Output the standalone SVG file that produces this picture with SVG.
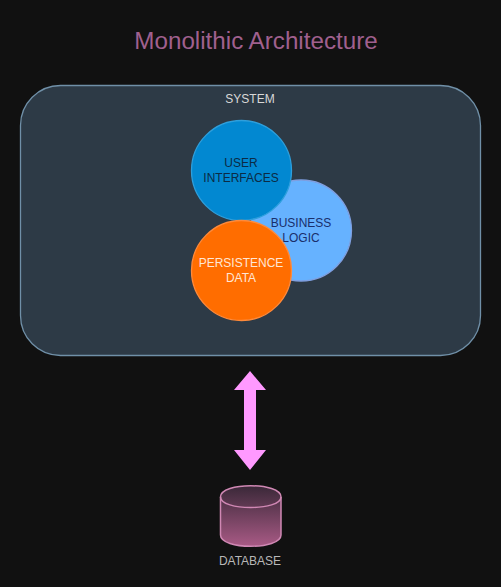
<svg xmlns="http://www.w3.org/2000/svg" width="501" height="587" viewBox="0 0 501 587">
<style>
text{font-family:"Liberation Sans",Arial,sans-serif;text-anchor:middle;font-size:12px}
.c{stroke-width:1.3}
</style>
<defs>
<linearGradient id="db" x1="0" y1="0" x2="0" y2="1"><stop offset="0" stop-color="#3a2838"/><stop offset="1" stop-color="#a85a85"/></linearGradient>
</defs>
<rect width="501" height="587" fill="#111111"/>
<text x="256" y="49" style="font-size:24.200px" fill="#a0608e">Monolithic Architecture</text>
<g id="system">
<rect x="20.500" y="85.500" width="460" height="270" rx="40" ry="40" fill="#2d3a46" stroke="#7090a8" stroke-width="1.300"/>
<text x="250" y="103" fill="#d8d8d8">SYSTEM</text>
</g>
<g id="business-logic">
<circle cx="301" cy="230.500" r="50.500" fill="#66b2ff" stroke="#7f9fe0" class="c"/>
<text x="301" y="227" fill="#1a2f6b">BUSINESS</text>
<text x="301" y="242" fill="#1a2f6b">LOGIC</text>
</g>
<g id="user-interfaces">
<circle cx="241.500" cy="170.500" r="50" fill="#0288d1" stroke="#2e9fdc" class="c"/>
<text x="241" y="167" fill="#0b2b45">USER</text>
<text x="241" y="182" fill="#0b2b45">INTERFACES</text>
</g>
<g id="persistence-data">
<circle cx="241.500" cy="270.500" r="50" fill="#ff6d00" stroke="#ff8a3a" class="c"/>
<text x="241" y="267" fill="#ffe6d5">PERSISTENCE</text>
<text x="241" y="282" fill="#ffe6d5">DATA</text>
</g>
<g id="connectors">
<path d="M250 371L266 390H256V450H266L250 470L234 450H244V390H234Z" fill="#ff99ff"/>
</g>
<g id="database">
<path d="M220.500 497C220.500 482 281 482 281 497V535C281 550 220.500 550 220.500 535Z" fill="url(#db)" stroke="#d088b4" stroke-width="1.500"/>
<path d="M220.500 497C220.500 511 281 511 281 497" fill="none" stroke="#d088b4" stroke-width="1.500"/>
<text x="250" y="565" fill="#b8b8b8">DATABASE</text>
</g>
</svg>
